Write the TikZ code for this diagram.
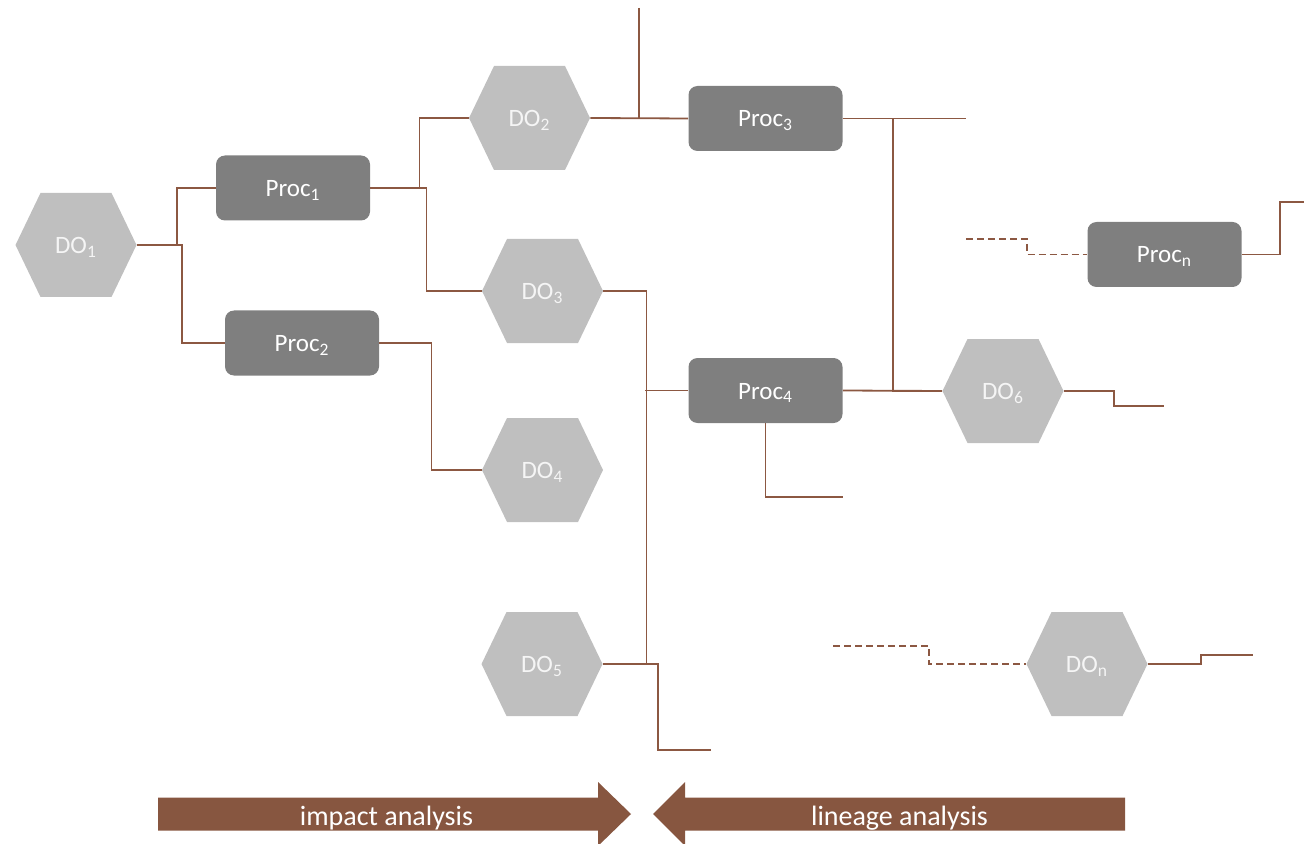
\documentclass[tikz,border=0pt]{standalone}
\usepackage{fontspec}
\setmainfont{Carlito}
\definecolor{linkc}{RGB}{140,88,66}
\definecolor{arrowc}{RGB}{135,86,64}
\definecolor{dofill}{RGB}{191,191,191}
\definecolor{procfill}{RGB}{127,127,127}
\definecolor{dotext}{RGB}{245,245,245}
\begin{document}
\begin{tikzpicture}[x=0.5pt,y=-0.5pt,
  link/.style={draw=linkc, line width=0.9pt},
  dashlink/.style={link, dash pattern=on 3.5pt off 2pt},
  procbox/.style={fill=procfill, rounded corners=4.5pt, minimum width=77pt,
    minimum height=32.5pt, inner sep=0pt, text=white, text height=8.5pt, text depth=0pt,
    font=\fontsize{12.5}{14}\selectfont},
  dohex/.style={minimum width=60.5pt, minimum height=52pt, inner sep=0pt,
    text=dotext, text height=8.5pt, text depth=0pt, font=\fontsize{12.5}{14}\selectfont,
    path picture={\fill[dofill]
      (path picture bounding box.west)
      -- ([xshift=12.5pt]path picture bounding box.north west)
      -- ([xshift=-12.5pt]path picture bounding box.north east)
      -- (path picture bounding box.east)
      -- ([xshift=-12.5pt]path picture bounding box.south east)
      -- ([xshift=12.5pt]path picture bounding box.south west)
      -- cycle;}},
  arrowlabel/.style={text=white, inner sep=0pt, text height=11pt, text depth=0pt,
    font=\fontsize{14}{16}\selectfont}]
\useasboundingbox (0,0) rectangle (1304,844);

% data objects
\node[dohex] (DO1) at (76,245) {DO\textsubscript{1}};
\node[dohex] (DO2) at (529.5,118) {DO\textsubscript{2}};
\node[dohex] (DO3) at (542.5,291) {DO\textsubscript{3}};
\node[dohex] (DO4) at (542.5,470) {DO\textsubscript{4}};
\node[dohex] (DO5) at (542,664) {DO\textsubscript{5}};
\node[dohex] (DO6) at (1003,391) {DO\textsubscript{6}};
\node[dohex] (DOn) at (1087,664) {DO\textsubscript{n}};

% processes
\node[procbox] (P1) at (293,188) {Proc\textsubscript{1}};
\node[procbox] (P2) at (302,343) {Proc\textsubscript{2}};
\node[procbox] (P3) at (765.5,118.5) {Proc\textsubscript{3}};
\node[procbox] (P4) at (765.5,390.5) {Proc\textsubscript{4}};
\node[procbox] (Pn) at (1164.5,254.5) {Proc\textsubscript{n}};

% loose ends
\coordinate (top) at (639,8);
\coordinate (e3) at (966,118.5);
\coordinate (e4) at (843,497);
\coordinate (e5) at (711,750);
\coordinate (e6) at (1164,406);
\coordinate (sn) at (966,239);
\coordinate (en) at (1304,202);
\coordinate (sm) at (833,646);
\coordinate (em) at (1253,655);

% connectors
\draw[link] (DO1.east) -- ++(40,0) |- (P1.west);
\draw[link] (DO1.east) -- ++(45,0) |- (P2.west);
\draw[link] (P1.east) -- ++(49,0) |- (DO2.west);
\draw[link] (P1.east) -- ++(56,0) |- (DO3.west);
\draw[link] (P2.east) -- ++(52,0) |- (DO4.west);
\draw[link] (DO2.east) -- (P3.west);
\draw[link] (top) -- (top |- DO2.east);
\draw[link] (P3.east) -- (e3);
\draw[link] (P3.east) -- ++(50,0) |- (DO6.west);
\draw[link] (P4.east) -- (DO6.west);
\draw[link] (DO3.east) -- ++(43,0) |- (DO5.east);
\draw[link] (P4.west) -- ++(-43,0);
\draw[link] (DO5.east) -- ++(55,0) |- (e5);
\draw[link] (P4.south) |- (e4);
\draw[link] (DO6.east) -- ++(50,0) |- (e6);
\draw[dashlink] (sn) -- ++(61,0) |- (Pn.west);
\draw[link] (Pn.east) -- ++(38,0) |- (en);
\draw[dashlink] (sm) -- ++(96,0) |- (DOn.west);
\draw[link] (DOn.east) -- ++(53,0) |- (em);

% direction arrows
\fill[arrowc] (158,797.5) -- (598,797.5) -- (598,782) -- (631,814)
  -- (598,846) -- (598,830.5) -- (158,830.5) -- cycle;
\fill[arrowc] (1125,797.5) -- (685,797.5) -- (685,782) -- (653,814)
  -- (685,846) -- (685,830.5) -- (1125,830.5) -- cycle;
\node[arrowlabel] (impact) at (386.5,814) {impact analysis};
\node[arrowlabel] (lineage) at (899.5,814) {lineage analysis};
\end{tikzpicture}
\end{document}
